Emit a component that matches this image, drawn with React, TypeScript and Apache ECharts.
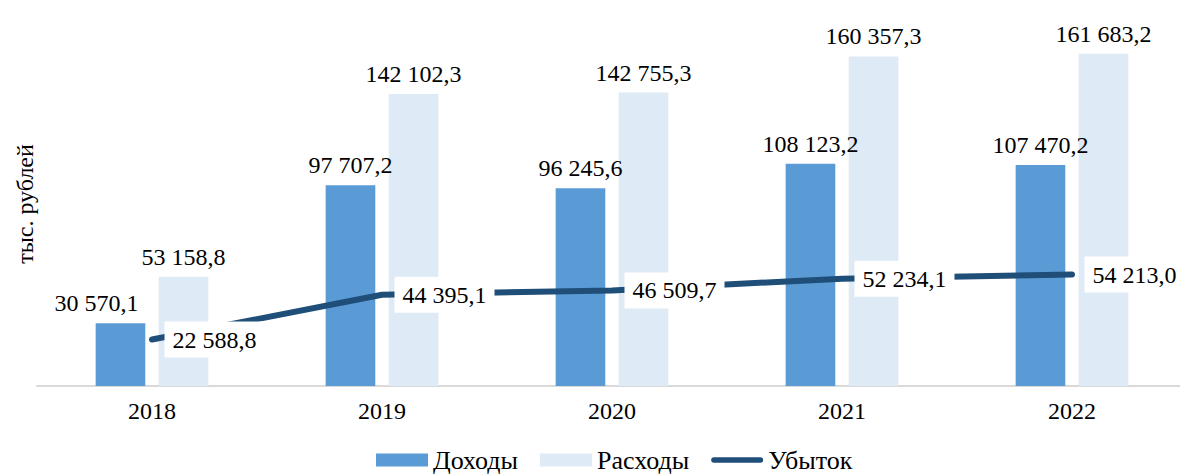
import React, { useEffect, useRef } from "react";
import * as echarts from "echarts";

const years = ["2018", "2019", "2020", "2021", "2022"];
const income = [30570.1, 97707.2, 96245.6, 108123.2, 107470.2];
const expenses = [53158.8, 142102.3, 142755.3, 160357.3, 161683.2];
const loss = [22588.8, 44395.1, 46509.7, 52234.1, 54213.0];
const incomeLabelOffsetX = [-24, 0, 0, 0, 0];

const FONT = "'Liberation Serif', 'Times New Roman', serif";

function fmt(v: number): string {
  const s = v.toFixed(1);
  const [i, d] = s.split(".");
  return i.replace(/\B(?=(\d{3})+(?!\d))/g, " ") + "," + d;
}

export default function App() {
  const ref = useRef<HTMLDivElement>(null);
  useEffect(() => {
    if (!ref.current) return;
    const chart = echarts.init(ref.current, null, { renderer: "svg" });
    chart.setOption({
      animation: false,
      textStyle: { fontFamily: FONT },
      grid: { left: 37, right: 3, top: 16, bottom: 89, containLabel: false },
      legend: {
        left: 371,
        top: 442,
        itemWidth: 52,
        itemHeight: 13,
        itemGap: 22,
        textStyle: { fontFamily: FONT, fontSize: 26, color: "#000" },
        data: [
          { name: "Доходы", icon: "rect" },
          { name: "Расходы", icon: "rect" },
          {
            name: "Убыток",
            icon: "path://M3,0 L53,0 A3,3 0 0 1 53,6 L3,6 A3,3 0 0 1 3,0 Z",
            itemStyle: { color: "#1F4E79" },
          },
        ],
      },
      xAxis: {
        type: "category",
        data: years,
        axisTick: { show: false },
        axisLine: { lineStyle: { color: "#d9d9d9", width: 2 } },
        axisLabel: { fontFamily: FONT, fontSize: 24, color: "#000", margin: 13 },
      },
      yAxis: { type: "value", min: 0, max: 180000, show: false },
      graphic: [
        {
          type: "text",
          x: 25,
          y: 204,
          rotation: Math.PI / 2,
          style: {
            text: "тыс. рублей",
            fontFamily: FONT,
            fontSize: 24,
            fill: "#000",
            textAlign: "center",
            textVerticalAlign: "middle",
          },
        },
      ],
      series: [
        {
          name: "Доходы",
          type: "bar",
          barGap: "27%",
          barCategoryGap: "51%",
          itemStyle: { color: "#5B9BD5" },
          data: income.map((v, i) => ({
            value: v,
            label: { offset: [incomeLabelOffsetX[i], 0] },
          })),
          label: {
            show: true,
            position: "top",
            distance: 8,
            fontFamily: FONT,
            fontSize: 24,
            color: "#000",
            formatter: (p: any) => fmt(p.value),
          },
        },
        {
          name: "Расходы",
          type: "bar",
          itemStyle: { color: "#DEEAF6" },
          data: expenses,
          label: {
            show: true,
            position: "top",
            distance: 8,
            fontFamily: FONT,
            fontSize: 24,
            color: "#000",
            formatter: (p: any) => fmt(p.value),
          },
        },
        {
          name: "Убыток",
          type: "line",
          data: loss,
          symbol: "circle",
          symbolSize: 1,
          showSymbol: true,
          itemStyle: { color: "#1F4E79" },
          lineStyle: { color: "#1F4E79", width: 6, cap: "round" },
          label: {
            show: true,
            position: "right",
            distance: 12,
            fontFamily: FONT,
            fontSize: 24,
            color: "#000",
            backgroundColor: "#fff",
            padding: [6, 8],
            formatter: (p: any) => fmt(p.value),
          },
        },
      ],
    });
    return () => chart.dispose();
  }, []);
  return (
    <div style={{ position: "absolute", left: 0, top: 0, width: 1180, height: 475, overflow: "hidden" }}>
      <div ref={ref} style={{ width: 1190, height: 475 }} />
    </div>
  );
}
